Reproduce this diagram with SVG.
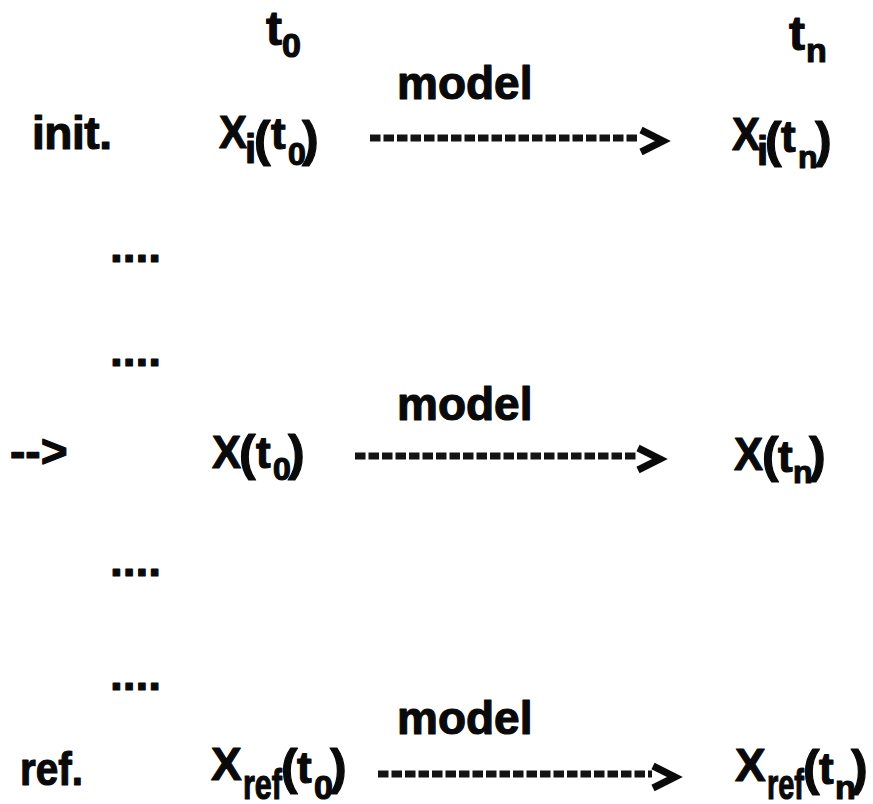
<svg xmlns="http://www.w3.org/2000/svg" width="873" height="804" viewBox="0 0 873 804">
<style>
text{font-family:"Liberation Sans",Arial,Helvetica,sans-serif;font-weight:bold;fill:#0a0a0a;stroke:#0a0a0a;stroke-width:1.2px;stroke-linejoin:round}
.m{font-size:46px}
.p{font-size:50px}
.s{font-size:32px}
.dash{fill:none;stroke:#141414;stroke-width:7;stroke-dasharray:10.5 3}
.head{fill:none;stroke:#0a0a0a;stroke-width:7;stroke-linejoin:miter;stroke-miterlimit:10}
</style>
<rect width="873" height="804" fill="#ffffff"/>
<g id="header-t0"><text><tspan x="266" y="45" font-size="48">t</tspan><tspan x="282" y="57" font-size="34">0</tspan></text></g>
<g id="header-tn"><text><tspan x="789" y="50" font-size="48">t</tspan><tspan x="806" y="62" font-size="34">n</tspan></text></g>

<g id="label-init"><text class="m" x="32" y="149" textLength="80">init.</text></g>
<g id="label-current"><text class="m" x="10" y="467">--&gt;</text></g>
<g id="label-ref"><text class="m" x="20" y="785" textLength="63" lengthAdjust="spacingAndGlyphs">ref.</text></g>

<g id="dots">
<text class="m" x="110" y="262">....</text>
<text class="m" x="110" y="366">....</text>
<text class="m" x="110" y="576">....</text>
<text class="m" x="110" y="690">....</text>
</g>

<g id="node-xi-t0"><text><tspan class="m" x="219" y="148" textLength="28" lengthAdjust="spacingAndGlyphs">X</tspan><tspan x="245" y="163" font-size="40">i</tspan><tspan class="p" x="254" y="156">(</tspan><tspan x="271" y="149" font-size="44">t</tspan><tspan class="s" x="288" y="165">0</tspan><tspan class="p" x="302" y="156">)</tspan></text></g>
<g id="node-xi-tn"><text><tspan class="m" x="732" y="150" textLength="28" lengthAdjust="spacingAndGlyphs">X</tspan><tspan x="757" y="165" font-size="40">i</tspan><tspan class="p" x="765" y="157">(</tspan><tspan x="781" y="152" font-size="44">t</tspan><tspan class="s" x="798" y="168">n</tspan><tspan class="p" x="815" y="157">)</tspan></text></g>

<g id="node-x-t0"><text><tspan class="m" x="212" y="468" textLength="29" lengthAdjust="spacingAndGlyphs">X</tspan><tspan class="p" x="239" y="470">(</tspan><tspan x="256" y="468" font-size="44">t</tspan><tspan class="s" x="273" y="480">0</tspan><tspan class="p" x="288" y="470">)</tspan></text></g>
<g id="node-x-tn"><text><tspan class="m" x="734" y="470" textLength="29" lengthAdjust="spacingAndGlyphs">X</tspan><tspan class="p" x="762" y="472">(</tspan><tspan x="778" y="472" font-size="44">t</tspan><tspan class="s" x="793" y="483">n</tspan><tspan class="p" x="809" y="472">)</tspan></text></g>

<g id="node-xref-t0"><text><tspan class="m" x="211" y="780">X</tspan><tspan x="243" y="799" font-size="42" textLength="39" lengthAdjust="spacingAndGlyphs">ref</tspan><tspan class="p" x="281" y="784">(</tspan><tspan x="297" y="783" font-size="44">t</tspan><tspan x="314" y="799" font-size="34">0</tspan><tspan class="p" x="330" y="784">)</tspan></text></g>
<g id="node-xref-tn"><text><tspan class="m" x="735" y="781">X</tspan><tspan x="767" y="799" font-size="42" textLength="37" lengthAdjust="spacingAndGlyphs">ref</tspan><tspan class="p" x="803" y="785">(</tspan><tspan x="819" y="784" font-size="44">t</tspan><tspan x="835" y="799" font-size="34">n</tspan><tspan class="p" x="851" y="785">)</tspan></text></g>

<g id="connectors">
<g id="edge-1"><text class="m" x="397" y="99">model</text><line class="dash" x1="370" y1="138" x2="640" y2="138"/><polyline class="head" points="641,130 663,141 641,152"/></g>
<g id="edge-2"><text class="m" x="397" y="420">model</text><line class="dash" x1="355" y1="456" x2="637" y2="456"/><polyline class="head" points="638,448 660,459 638,470"/></g>
<g id="edge-3"><text class="m" x="397" y="734">model</text><line class="dash" x1="378" y1="774" x2="652" y2="774"/><polyline class="head" points="653,766 675,777 653,788"/></g>
</g>
</svg>
